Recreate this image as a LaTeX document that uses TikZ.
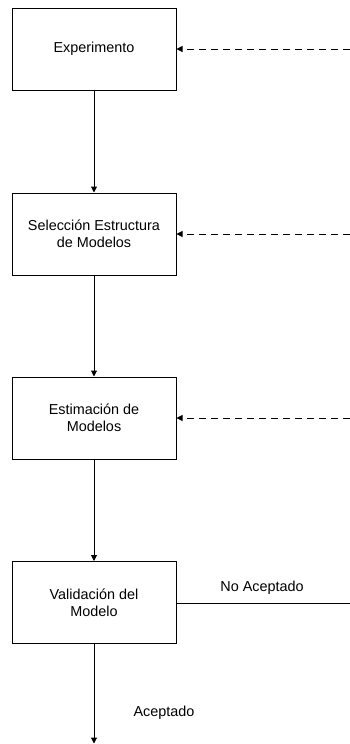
\documentclass[tikz,border=0pt]{standalone}
\usepackage{fontspec}
\setmainfont{Liberation Sans}
\usetikzlibrary{arrows.meta}

\tikzset{
  etapa/.style={draw, line width=0.75pt, minimum width=123pt, minimum height=61.5pt, inner sep=0.75pt, align=center, font=\fontsize{10.8}{12.6}\selectfont},
  flecha/.style={line width=0.75pt, -{Triangle[length=4.5pt,width=4.5pt]}},
  retorno/.style={flecha, dash pattern={on 5.25pt off 3.75pt}},
  etiqueta/.style={inner sep=0.75pt, font=\fontsize{10.8}{12.6}\selectfont}
}

\begin{document}
\begin{tikzpicture}[x=0.75pt,y=0.75pt,yscale=-1,xscale=1]
	\useasboundingbox (0,0) rectangle (350,744);
	
	%Shape: Rectangle [id:experimento] 
	\node [etapa] (exper) at (94,49) {Experimento};
	%Shape: Rectangle [id:seleccion] 
	\node [etapa] (selec) at (94,234) {Selección Estructura\\de Modelos};
	%Shape: Rectangle [id:estimacion] 
	\node [etapa] (estim) at (94,418) {Estimación de\\Modelos};
	%Shape: Rectangle [id:validacion] 
	\node [etapa] (valid) at (94,602.5) {Validación del\\Modelo};
	
	%Free ends 
	\coordinate (r1) at (350,49);
	\coordinate (r2) at (350,234);
	\coordinate (r3) at (350,418);
	\coordinate (r4) at (350,603);
	\coordinate (fin) at (94,743.5);
	
	%Straight Lines 
	\draw [flecha] (exper) -- (selec);
	\draw [flecha] (selec) -- (estim);
	\draw [flecha] (estim) -- (valid);
	\draw [flecha] (valid) -- (fin);
	%Straight Lines [dashed] 
	\draw [retorno] (r1) -- (exper);
	\draw [retorno] (r2) -- (selec);
	\draw [retorno] (r3) -- (estim);
	%Straight Lines 
	\draw [line width=0.75pt] (valid.east |- r4) -- (r4);
	
	% Text Node
	\node [etiqueta] (noacep) at (262,588) {No Aceptado};
	% Text Node
	\node [etiqueta] (acep) at (164,713) {Aceptado};
	
\end{tikzpicture}
\end{document}
